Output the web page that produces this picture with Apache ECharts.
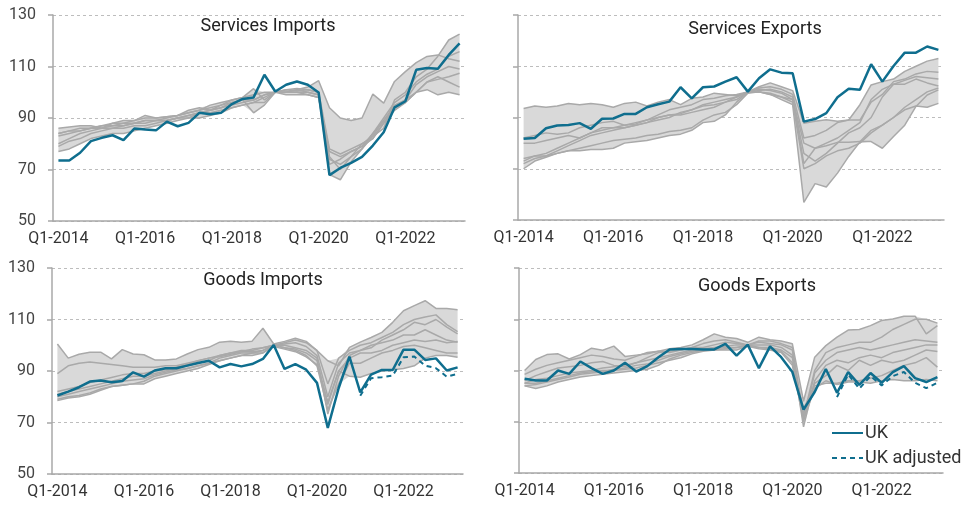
<!DOCTYPE html>
<html>
<head>
<meta charset="utf-8">
<script src="https://cdn.jsdelivr.net/npm/echarts@6/dist/echarts.min.js"></script>
<style>
  html, body { margin: 0; padding: 0; background: #fff; }
  #chart { width: 966px; height: 506px; }
</style>
</head>
<body>
<div id="chart"></div>
<script>
// quarters Q1-2014 .. Q2-2023
var quarters = [];
for (var y = 2014; y <= 2023; y++) {
    for (var q = 1; q <= 4; q++) {
        quarters.push('Q' + q + '-' + y);
    }
}
quarters = quarters.slice(0, 38);

var yTicks = [50, 70, 90, 110, 130];

// Services imports
var siUK = [73.5, 73.5, 76.5, 81, 82.3, 83.3, 81.4, 85.9, 85.5, 85.2, 88.6, 86.8, 88.1, 92, 91.5, 92, 95.4, 97.4, 98, 106.8,
    100.3, 102.9, 104.2, 102.9, 99.9, 67.8, 70.6, 72.6, 74.9, 79.3, 84.5, 94.1, 96.5, 108.7, 109.4, 109.1, 114.5, 119];
var siOthers = [
    [84, 85, 86, 86, 87, 88, 88, 89, 90, 90, 90.5, 91, 92, 93, 95, 96, 97, 98, 99, 100, 100, 101, 101.5, 101, 100, 78, 76, 78, 80, 83, 86, 97, 100, 106, 109, 114, 120.3, 122.6],
    [86, 86.5, 87, 87, 86, 88, 89, 89, 91, 90, 90.5, 91, 93, 94, 93, 95, 97, 98, 101.4, 97, 100, 100, 101, 102, 104.5, 94, 90, 89, 90, 99.3, 95.8, 104.2, 108, 111.5, 113.9, 114.5, 113, 112],
    [83, 84, 85, 86, 86, 87, 87, 88, 89, 89, 90, 91, 92, 93, 94, 95, 96, 97, 97, 99, 100, 101, 100.5, 101, 100, 72, 74, 77, 79, 84, 90, 96, 99, 104, 107, 109, 114, 115.8],
    [80, 82, 84, 85, 86, 86, 87, 88, 88, 89, 89, 90, 90, 92, 93, 94, 95, 96, 97, 99, 100, 100, 100, 100, 99, 75, 70, 75, 80, 82, 88, 94, 97, 103, 106, 108, 110, 109],
    [77, 78, 80, 82, 83, 84, 84, 85, 86, 87, 88, 89, 90, 90, 91, 92, 94, 95, 96, 98, 100, 100, 101, 100, 99, 68, 66, 73, 78, 84, 89, 95, 97, 100, 104, 105, 106, 107.4],
    [84, 85, 85, 86, 87, 87, 88, 88, 89, 89, 89, 90, 91, 92, 92, 93, 94, 95, 96, 96, 100, 99, 99, 99, 98, 77, 75, 77, 79, 82, 88, 93, 96, 100, 104, 106, 104, 102],
    [79, 81, 82, 84, 85, 86, 86, 87, 87, 88, 89, 90, 91, 92, 93, 94, 96, 97, 92, 95, 100, 100, 100, 99, 98, 74, 72, 75, 78, 83, 89, 94, 96, 100, 101, 99, 100, 99]
];

// Services exports
var seUK = [81.7, 82, 85.8, 86.9, 87.1, 87.8, 85.6, 89.5, 89.6, 91.4, 91.4, 94, 95.2, 96.2, 101.8, 97.5, 101.8, 102.1, 104, 105.7,
    100.1, 105.3, 108.8, 107.5, 107.3, 88.4, 89.4, 91.7, 97.9, 101.2, 100.8, 110.8, 104, 110.1, 115.3, 115.3, 117.7, 116.4];
var seOthers = [
    [93.5, 94.5, 94, 94.5, 95.5, 95, 95.5, 95, 94, 95.5, 96, 94.5, 96, 97, 95, 97.5, 98, 99.5, 99, 98.5, 100, 102, 103.5, 102, 100.5, 87.8, 88.5, 89.1, 88.5, 89, 95, 102.7, 104, 105, 108, 110, 112, 113],
    [82, 83, 84, 83.5, 84, 86, 87, 88, 88.5, 87, 88, 89, 91, 93, 94, 95, 97, 97.5, 98.5, 99, 100, 101.5, 102, 101, 99, 82, 83, 85, 88, 89, 89, 96, 99, 104, 105, 107, 108, 107.7],
    [80, 80, 81, 82, 83, 82, 84, 85, 86, 86, 87, 88, 90, 91, 91.5, 93, 95, 96, 97, 98, 100, 100.5, 101, 100, 98, 72, 78, 80, 82, 85, 88, 97, 101, 103, 104.5, 106, 105.5, 105],
    [74, 75, 76, 78, 80, 82, 84, 86, 86, 87, 87.5, 89, 90, 91, 91, 92, 93, 94, 96, 98, 100, 101, 100.5, 99.5, 97, 76, 73, 76, 80, 84, 86, 90, 98, 103, 103, 105, 103.5, 102.3],
    [73, 75, 75, 77, 79, 81, 83, 84, 85, 86, 87, 88, 89, 90, 92, 93, 94.5, 95, 96, 97, 100, 100, 99.5, 98, 96, 70, 72, 75, 77, 78, 80, 84, 87, 90, 94, 97, 100, 101.5],
    [72, 74, 75, 76, 77, 78, 79, 80, 81, 81.5, 82, 83, 83.5, 84.5, 85, 86, 89, 91, 92, 95, 99.5, 100, 99, 98, 97, 80, 78, 79, 80.3, 80.3, 80.6, 80.6, 78, 82.6, 87, 94.3, 98.8, 100.8],
    [70, 73, 74.5, 76, 77, 77, 77.5, 77.5, 78, 80, 80.5, 81, 82, 83, 83.5, 85, 88, 88.5, 91, 96, 100, 100, 99, 97, 95, 56.9, 64.2, 62.9, 68.3, 74.8, 80.5, 85, 87, 90, 93, 94.5, 94, 95.5]
];

// Goods imports
var giUK = [80.5, 82, 83.7, 85.9, 86.3, 85.6, 86.1, 89.5, 87.8, 90.2, 91.1, 91.1, 92.1, 93.1, 94, 91.4, 92.7, 91.8, 92.7, 94.7,
    100.1, 90.8, 92.7, 90.5, 85.4, 67.9, 83.3, 95.6, 81.7, 88.6, 90.4, 90.4, 98.3, 98.3, 94.3, 94.9, 90.2, 91.4];
var giAdj = [null, null, null, null, null, null, null, null, null, null, null, null, null, null, null, null, null, null, null, null,
    null, null, null, null, null, null, null, null, 80.4, 87.2, 87.6, 88.2, 95.3, 95.6, 92.1, 91.1, 87.8, 88.9];
var giOthers = [
    [100.5, 95, 96.5, 97.3, 97.3, 94.7, 98.3, 96.6, 96.3, 94.3, 94.3, 94.7, 96.6, 98.3, 99.2, 101.2, 101.6, 101.2, 101.6, 106.6, 100.5, 101.5, 102.7, 101.5, 97.9, 94, 92, 99.2, 101.2, 103, 105, 108.9, 113.4, 115.4, 117.3, 114.3, 114.3, 113.8],
    [89, 92, 93, 93.5, 93, 92.5, 92, 91.5, 91.5, 91.5, 92, 92, 93, 94, 95, 96, 97, 97.5, 97.5, 98, 100, 101, 102, 101, 98, 85, 95, 98, 100, 101, 103, 105, 108, 110, 111, 111.8, 108, 105.3],
    [82, 83, 84, 85.5, 86.5, 87.5, 88.5, 89, 89, 90, 90.5, 91.5, 92.5, 94, 95, 95.5, 96.5, 97.5, 98.5, 99, 100, 100.5, 101, 99.5, 96, 80, 93, 97, 98, 99, 102, 104, 106, 108.9, 108, 110, 107, 104.4],
    [81, 82, 83, 84, 85, 86, 87, 88, 88, 89, 90, 91, 92, 93, 94, 96, 97, 98, 98, 99, 100, 100, 99, 98, 95, 73.3, 88, 96, 98, 100, 101, 102, 104, 104, 106, 104, 102, 101.2],
    [80, 81, 82, 83, 84, 85, 86, 86.5, 87, 88.5, 89.5, 90.5, 91, 92, 93, 95, 96, 97, 97, 98, 100, 99, 98.5, 97, 94, 77, 90, 95, 97, 97, 98, 100, 101, 102, 101.5, 102, 101, 101.5],
    [79, 80, 80.5, 81.5, 83, 84, 84.5, 85, 86, 88, 89, 90, 91, 92, 93, 94, 95, 96, 96, 97, 100, 99, 98, 96, 92, 75, 85, 93, 93, 95, 97, 98, 99.5, 100, 99, 98, 97, 97],
    [78.5, 79.5, 80, 81, 82.5, 84, 84.5, 85, 85, 87, 88, 89, 90, 91, 92.5, 94, 95, 96, 97, 97, 99.5, 98.5, 97.5, 95.5, 92.5, 78, 90, 88, 87.6, 89, 90, 90.5, 91, 92, 95, 96, 96, 95.3]
];

// Goods exports
var geUK = [86.8, 86.1, 86.1, 90, 88.7, 93.5, 90.9, 88.7, 90, 93, 89.6, 91.7, 95.2, 98.2, 98.4, 98.4, 98.2, 98.2, 100.4, 95.8,
    100.1, 90.9, 99.4, 95.2, 89.4, 74.7, 81.6, 90.6, 81.3, 89.4, 84.4, 89, 85.2, 89.4, 91.7, 87, 85.5, 87.4];
var geAdj = [null, null, null, null, null, null, null, null, null, null, null, null, null, null, null, null, null, null, null, null,
    null, null, null, null, null, null, null, null, 79.6, 88.5, 82.9, 87.8, 84.2, 87.8, 89.4, 85.2, 83.1, 85.2];
var geOthers = [
    [90, 94.3, 96.2, 96.5, 94.5, 96.2, 98.7, 97.9, 99.5, 95.5, 96, 96.5, 97.5, 98.5, 99, 100, 102, 104.3, 103, 102.5, 101, 103, 102, 101.5, 100.4, 78, 95.2, 99.7, 103, 105.8, 106, 107.5, 109.5, 110.1, 111.2, 111.2, 104.3, 107.5],
    [88.5, 90.5, 92, 93, 94, 95, 96, 95.5, 94.5, 94, 95.5, 97, 97.5, 97, 98, 99, 100.5, 101.5, 102, 101, 100, 101.5, 101.5, 100.5, 99, 72, 90, 97, 99, 100, 101, 101, 103, 106, 108, 110, 110, 108.5],
    [86, 88, 89.5, 91, 91.5, 92, 93, 93.5, 92, 91.5, 93, 95, 97, 97.5, 98, 99, 99, 100, 101, 100.5, 100, 101, 100.5, 100, 98, 70, 89, 94, 97, 98, 99, 98, 99, 100, 101, 102, 101.5, 101],
    [85, 86.5, 87, 88, 89, 89.5, 90, 91, 91.5, 92, 93, 94, 95, 96, 97, 98, 98.5, 99, 99.5, 100, 100, 100, 100, 99, 96, 68, 86, 92, 94, 93, 95, 96, 95, 97, 98, 99, 100, 100],
    [84, 84.5, 85.5, 86.5, 87.5, 88.5, 89, 89.5, 90.5, 91, 92, 92.5, 94, 95.5, 96.5, 97.5, 98, 98.5, 99, 99, 100, 99, 99, 98, 95, 73, 85, 88, 92, 90, 94, 92, 94, 93, 94, 96, 98, 97.4],
    [84, 83, 84, 85.5, 86.5, 87.5, 88, 88.5, 89, 89.5, 90, 90.5, 92, 94.5, 96, 97, 98, 98, 98.5, 99, 99.5, 99, 98.5, 97.5, 93, 75, 84, 85, 85, 86, 86, 87, 88, 90, 92, 93, 95, 91.3],
    [85, 85, 86, 87, 88, 89, 89.5, 90, 90, 90.5, 91, 92, 93, 94, 95, 96.5, 97.5, 98, 98, 98, 99.5, 98.5, 98, 97, 92, 71, 83, 86, 84.5, 85.5, 85.5, 85, 86, 86.5, 86, 86, 86.5, 86]
];

var panels = [
    { title: 'Services Imports', uk: siUK, adj: null, others: siOthers, grid: { left: 53, top: 15, width: 412, height: 206 }, tx: 268, ty: 26, labels: true },
    { title: 'Services Exports', uk: seUK, adj: null, others: seOthers, grid: { left: 518, top: 15, width: 426, height: 205 }, tx: 755, ty: 29, labels: false },
    { title: 'Goods Imports', uk: giUK, adj: giAdj, others: giOthers, grid: { left: 52, top: 268, width: 411, height: 206 }, tx: 263, ty: 280, labels: true },
    { title: 'Goods Exports', uk: geUK, adj: geAdj, others: geOthers, grid: { left: 519, top: 268, width: 424, height: 205 }, tx: 757, ty: 286, labels: false }
];

var FONT = 'Roboto, "Open Sans", sans-serif';
var BLUE = '#0f6e8e';

var grids = [], xAxes = [], yAxes = [], series = [], graphics = [];

panels.forEach(function (p, k) {
    grids.push(p.grid);
    xAxes.push({
        type: 'category',
        gridIndex: k,
        data: quarters,
        boundaryGap: true,
        axisLine: { lineStyle: { color: '#a8a8a8', width: 1.5 } },
        axisTick: { interval: 7, length: 5, lineStyle: { color: '#a8a8a8', width: 1.5 } },
        axisLabel: { interval: 7, margin: 10, fontSize: 16, color: '#333', fontFamily: FONT }
    });
    yAxes.push({
        type: 'value',
        gridIndex: k,
        min: yTicks[0],
        max: yTicks[yTicks.length - 1],
        interval: 20,
        axisLine: { show: true, lineStyle: { color: '#a8a8a8', width: 1.5 } },
        axisTick: { show: true, length: 5, lineStyle: { color: '#a8a8a8', width: 1.5 } },
        axisLabel: { show: p.labels, margin: 17, fontSize: 16, color: '#444', fontFamily: FONT },
        splitLine: { lineStyle: { color: '#bdbdbd', type: [3, 3], width: 1 } }
    });

    // range band of the other countries (min to max)
    var lo = [], span = [];
    for (var i = 0; i < quarters.length; i++) {
        var vals = p.others.map(function (s) { return s[i]; });
        var mn = Math.min.apply(null, vals), mx = Math.max.apply(null, vals);
        lo.push(mn);
        span.push(mx - mn);
    }
    series.push({
        type: 'line', xAxisIndex: k, yAxisIndex: k, stack: 'band' + k, data: lo,
        symbol: 'none', silent: true, lineStyle: { opacity: 0 }, z: 1
    });
    series.push({
        type: 'line', xAxisIndex: k, yAxisIndex: k, stack: 'band' + k, data: span,
        symbol: 'none', silent: true, lineStyle: { opacity: 0 },
        areaStyle: { color: '#d9d9d9', opacity: 1 }, z: 1
    });
    p.others.forEach(function (s) {
        series.push({
            type: 'line', xAxisIndex: k, yAxisIndex: k, data: s,
            symbol: 'none', silent: true,
            lineStyle: { color: '#a9a9a9', width: 1.5 }, z: 2
        });
    });
    if (p.adj) {
        series.push({
            name: 'UK adjusted', type: 'line', xAxisIndex: k, yAxisIndex: k, data: p.adj,
            symbol: 'none', color: BLUE,
            lineStyle: { color: BLUE, width: 2, type: [5, 4] }, z: 3
        });
    }
    series.push({
        name: 'UK', type: 'line', xAxisIndex: k, yAxisIndex: k, data: p.uk,
        symbol: 'none', color: BLUE,
        lineStyle: { color: BLUE, width: 2.5 }, z: 4
    });

    // panel title, centred
    graphics.push({
        type: 'text', x: p.tx, y: p.ty,
        style: {
            text: p.title, fill: '#222', fontSize: 18, fontFamily: FONT,
            textAlign: 'center', textVerticalAlign: 'middle'
        }
    });
});

var chart = echarts.init(document.getElementById('chart'), null, { renderer: 'canvas' });
chart.setOption({
    animation: false,
    backgroundColor: '#fff',
    grid: grids,
    xAxis: xAxes,
    yAxis: yAxes,
    series: series,
    graphic: graphics,
    legend: {
        data: ['UK', 'UK adjusted'],
        orient: 'vertical',
        left: 826,
        top: 419,
        itemWidth: 31,
        itemHeight: 12,
        itemGap: 7,
        selectedMode: false,
        itemStyle: { opacity: 0 },
        textStyle: { fontSize: 18, color: '#333', fontFamily: FONT, padding: [0, 0, 0, -3] }
    }
});
</script>
</body>
</html>
